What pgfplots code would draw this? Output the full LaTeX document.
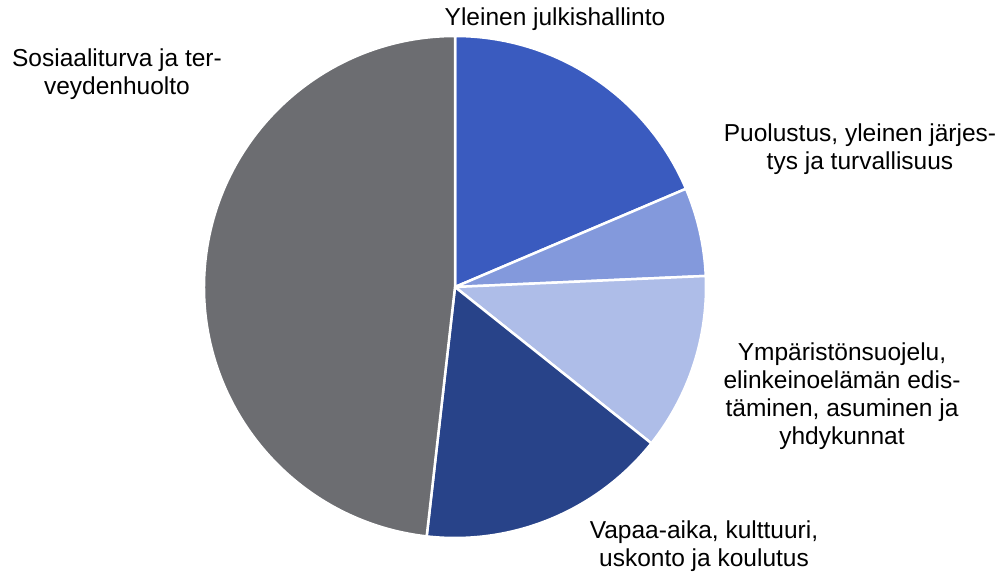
\documentclass[border=0pt]{standalone}
\usepackage{pgfplots}
\usepackage{pgfplotstable}
\usepackage{fontspec}
\setmainfont{Liberation Sans}
\pgfplotsset{compat=1.18}
\definecolor{c1}{HTML}{3A5BBF}
\definecolor{c2}{HTML}{8399DC}
\definecolor{c3}{HTML}{AEBDE8}
\definecolor{c4}{HTML}{284389}
\definecolor{c5}{HTML}{6C6D71}
\pgfplotstableread{
value color
18.6 c1
5.7 c2
11.4 c3
16.1 c4
48.2 c5
}\piedata
\tikzset{lbl/.style={font=\fontsize{24.5}{28}\selectfont, align=center, text=black, inner sep=0pt}}
\begin{document}
\begin{tikzpicture}
\begin{axis}[
  x=1pt, y=1pt, scale only axis,
  xmin=0, xmax=1000, ymin=0, ymax=573,
  hide axis, clip=false,
]
\def\startang{90}
\pgfplotstablegetrowsof{\piedata}
\pgfmathtruncatemacro\nrows{\pgfplotsretval-1}
\pgfplotsforeachungrouped \i in {0,...,\nrows}{%
  \pgfplotstablegetelem{\i}{value}\of\piedata \let\v\pgfplotsretval
  \pgfplotstablegetelem{\i}{color}\of\piedata \let\c\pgfplotsretval
  \pgfmathsetmacro\endang{\startang-3.6*\v}%
  \edef\temp{\noexpand\fill[fill=\c, draw=white, line width=2.5pt, line join=round] (axis cs:455,286) -- ++(\startang:251pt) arc[start angle=\startang, end angle=\endang, radius=251pt] -- cycle;}%
  \temp
  \global\let\startang\endang
}
\node[lbl] at (axis cs:555,554) {Yleinen julkishallinto};
\node[lbl] at (axis cs:117,499) {Sosiaaliturva ja ter-\\veydenhuolto};
\node[lbl] at (axis cs:860,424) {Puolustus, yleinen järjes-\\tys ja turvallisuus};
\node[lbl] at (axis cs:842,177) {Ympäristönsuojelu,\\elinkeinoelämän edis-\\täminen, asuminen ja\\yhdykunnat};
\node[lbl] at (axis cs:704,27) {Vapaa-aika, kulttuuri,\\uskonto ja koulutus};
\end{axis}
\pgfresetboundingbox
\path[use as bounding box] (0,0) rectangle (1000pt,573pt);
\end{tikzpicture}
\end{document}
